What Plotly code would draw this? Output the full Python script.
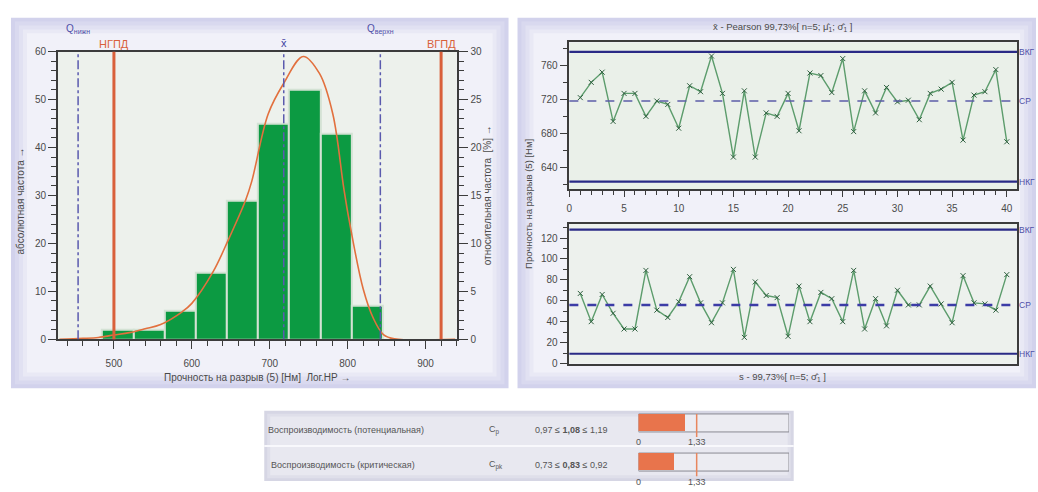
import plotly.graph_objects as go

W, H = 1038, 492

# ---------------- data ----------------
hist_bin_centers = [505, 545, 585, 625, 665, 705, 745, 785, 825]
hist_counts = [2, 2, 6, 14, 29, 45, 52, 43, 7]
hist_bin_width = 40
fit_x = [430, 460, 480, 500, 520, 540, 560, 588, 600, 627, 647, 669, 677, 698, 718, 743, 764, 781, 795, 802, 820, 833, 846, 860, 938]
fit_y = [0.0, 0.2, 0.4, 0.9, 1.4, 2.2, 3.1, 5.8, 7.5, 14, 20.8, 29, 33, 47, 53.4, 59, 55.4, 47, 31.6, 24.8, 10.5, 4.4, 1.0, 0.1, 0.0]
lsl, usl = 500, 920
q_low, q_high = 454, 842
x_mean = 718

sample_no = list(range(1, 41))
xbar_values = [722, 740, 752, 694, 727, 727, 700, 718, 714, 686, 736, 729, 771, 727, 652, 730, 652, 704, 700, 727,
               683, 751, 748, 728, 768, 682, 730, 704, 734, 717, 719, 696, 727, 732, 740, 672, 725, 729, 755, 670]
xbar_ucl, xbar_cl, xbar_lcl = 776, 718, 623
s_values = [67, 40, 66, 48, 33, 33, 89, 51, 44, 59, 83, 58, 39, 58, 90, 25, 78, 65, 63, 26,
            74, 40, 68, 62, 40, 89, 33, 62, 36, 70, 56, 56, 74, 57, 39, 84, 58, 57, 51, 85]
s_ucl, s_cl, s_lcl = 128, 56, 9.3

cap_labels = ["Воспроизводимость (потенциальная)", "Воспроизводимость (критическая)"]
cap_symbols = ["C<sub>p</sub>", "C<sub>pk</sub>"]
cap_low = ["0,97", "0,73"]
cap_value = [1.08, 0.83]
cap_value_text = ["1,08", "0,83"]
cap_high = ["1,19", "0,92"]
cap_target = 1.33
cap_target_text = "1,33"
cap_scale_max = 3.44
cap_rows = [1, 0]

# ---------------- helpers ----------------
def px(x):
    return x / W

def py(y):
    return 1 - y / H

FONT = "Liberation Sans"
TXT = "#4a4a4a"
BLUE = "#5050a8"
ORANGE = "#d9603a"
NAVY = "#2a2a86"

fig = go.Figure()

# histogram
fig.add_trace(go.Bar(x=hist_bin_centers, y=hist_counts, width=hist_bin_width,
                     marker=dict(color="#0c9a42", line=dict(color="#d4e2d4", width=2)),
                     xaxis="x", yaxis="y", showlegend=False))
total = sum(hist_counts)
fig.add_trace(go.Scatter(x=hist_bin_centers, y=[c * 100.0 / total for c in hist_counts],
                         mode="markers", marker=dict(opacity=0), xaxis="x", yaxis="y2",
                         showlegend=False, hoverinfo="skip"))
fig.add_trace(go.Scatter(x=fit_x, y=fit_y, mode="lines", line=dict(color="#e2703e", width=1.6, shape="spline"),
                         xaxis="x", yaxis="y", showlegend=False))

# x-bar chart
fig.add_trace(go.Scatter(x=sample_no, y=xbar_values, mode="lines+markers",
                         line=dict(color="#5c9c6c", width=1.4),
                         marker=dict(symbol="x-thin", size=5, line=dict(color="#2f5f3f", width=1)),
                         xaxis="x3", yaxis="y3", showlegend=False))
# s chart
fig.add_trace(go.Scatter(x=sample_no, y=s_values, mode="lines+markers",
                         line=dict(color="#5c9c6c", width=1.4),
                         marker=dict(symbol="x-thin", size=5, line=dict(color="#2f5f3f", width=1)),
                         xaxis="x4", yaxis="y4", showlegend=False))

# capability bars
fig.add_trace(go.Bar(x=cap_value, y=cap_rows, orientation="h", width=0.42,
                     marker=dict(color="#e8744c", line=dict(width=0)),
                     xaxis="x5", yaxis="y5", showlegend=False))

shapes = []

# panel backgrounds (concentric steps to mimic gradient)
def panel(x0, y0, x1, y1, edge, center, steps=5, inset=4):
    e = [int(edge[i:i + 2], 16) for i in (1, 3, 5)]
    c = [int(center[i:i + 2], 16) for i in (1, 3, 5)]
    for k in range(steps):
        t = k / (steps - 1)
        col = "#%02x%02x%02x" % tuple(int(e[j] + (c[j] - e[j]) * t) for j in range(3))
        d = k * inset
        shapes.append(dict(type="rect", xref="paper", yref="paper", layer="below",
                           x0=px(x0 + d), x1=px(x1 - d), y0=py(y1 - d), y1=py(y0 + d),
                           line=dict(width=0), fillcolor=col))

panel(8, 13, 507, 392, "#d2d2ec", "#f1f1f9")
panel(516, 13, 1036, 392, "#d2d2ec", "#f1f1f9")
panel(262, 415, 793, 487, "#d6d6e4", "#e8e8f0", steps=3, inset=3)
shapes.append(dict(type="line", xref="paper", yref="paper", x0=px(262), x1=px(793), y0=py(451), y1=py(451),
                   line=dict(color="#f8f8fc", width=2)))

# plot area backgrounds
for xa, ya, col in [("x", "y", "#edf1ec"), ("x3", "y3", "#eaf0e9"), ("x4", "y4", "#edf1ed")]:
    shapes.append(dict(type="rect", xref=xa + " domain", yref=ya + " domain", x0=0, x1=1, y0=0, y1=1,
                       layer="below", line=dict(width=0), fillcolor=col))

# histogram reference lines
for xv in (q_low, x_mean, q_high):
    shapes.append(dict(type="line", xref="x", yref="y domain", x0=xv, x1=xv, y0=0, y1=1,
                       line=dict(color="#5a5aae", width=1.5, dash="dashdot")))
for xv in (lsl, usl):
    shapes.append(dict(type="line", xref="x", yref="y domain", x0=xv, x1=xv, y0=0, y1=1,
                       line=dict(color=ORANGE, width=3)))

# control limits
for xa, ya, ucl, cl, lcl, clw, clc in [("x3", "y3", xbar_ucl, xbar_cl, xbar_lcl, 1.6, "#5c5ca8"),
                                       ("x4", "y4", s_ucl, s_cl, s_lcl, 2.4, "#3c3ca6")]:
    for v in (ucl, lcl):
        shapes.append(dict(type="line", xref=xa + " domain", yref=ya, x0=0, x1=1, y0=v, y1=v,
                           line=dict(color=NAVY, width=2.2)))
    shapes.append(dict(type="line", xref=xa + " domain", yref=ya, x0=0, x1=1, y0=cl, y1=cl,
                       line=dict(color=clc, width=clw, dash="dash")))

# capability boxes and target line
for r in cap_rows:
    shapes.append(dict(type="rect", xref="x5", yref="y5", x0=0, x1=cap_scale_max, y0=r - 0.23, y1=r + 0.23,
                       layer="below", fillcolor="#ececf2", line=dict(color="#8a8a92", width=1)))
    shapes.append(dict(type="line", xref="x5", yref="y5", x0=cap_target, x1=cap_target, y0=r - 0.36, y1=r + 0.23,
                       line=dict(color="#e8865e", width=1.5)))

annotations = []

def ann(text, x, y, xref="paper", yref="paper", size=10, color=TXT, angle=0, xanchor="center", yanchor="middle"):
    annotations.append(dict(text=text, x=x, y=y, xref=xref, yref=yref, showarrow=False,
                            font=dict(family=FONT, size=size, color=color), textangle=angle,
                            xanchor=xanchor, yanchor=yanchor, borderpad=0))

# histogram labels
ann("Q<sub>нижн</sub>", q_low, py(25), xref="x", color=BLUE, size=10)
ann("НГПД", lsl, py(40), xref="x", color=ORANGE, size=11)
ann("x̄", x_mean, py(39), xref="x", color="#4040a0", size=11)
ann("Q<sub>верхн</sub>", q_high, py(25), xref="x", color=BLUE, size=10)
ann("ВГПД", usl, py(40), xref="x", color=ORANGE, size=11)
ann("абсолютная частота →", px(18), py(200), angle=-90)
ann("относительная частота  [%] →", px(486), py(195), angle=-90)
ann("Прочность на разрыв (5) [Нм]  Лог.НР →", px(255), py(381))

# control chart labels
ann("x̄ - Pearson 99,73%[ n=5; μ̂<sub>1</sub>; σ̂<sub>1</sub> ]", px(782), py(23), size=9.5)
ann("s - 99,73%[ n=5; σ̂<sub>1</sub> ]", px(782), py(381), size=9.5)
ann("Прочность на разрыв (5) [Нм]", px(527), py(203), angle=-90, size=9.5)
for ya, ucl, cl, lcl in [("y3", xbar_ucl, xbar_cl, xbar_lcl), ("y4", s_ucl, s_cl, s_lcl)]:
    for t, v in (("ВКГ", ucl), ("СР", cl), ("НКГ", lcl)):
        ann(t, px(1018), v, yref=ya, color=BLUE, size=8.5, xanchor="left")

# capability table text
row_text_y = [py(435), py(471)]
for i, r in enumerate(cap_rows):
    ann(cap_labels[i], px(265 + 3 * i), row_text_y[i], size=9, color="#555555", xanchor="left")
    ann(cap_symbols[i], px(486), row_text_y[i], size=9, color="#555555", xanchor="left")
    ann(cap_low[i] + " ≤ <b>" + cap_value_text[i] + "</b> ≤ " + cap_high[i], px(533), row_text_y[i],
        size=9, color="#555555", xanchor="left")
    ann("0", 0, r - 0.5, xref="x5", yref="y5", size=9, color="#555555")
    ann(cap_target_text, cap_target, r - 0.5, xref="x5", yref="y5", size=9, color="#555555")

axis_common = dict(showline=True, linecolor="#3c3c3c", linewidth=1.5, mirror=True, showgrid=False,
                   zeroline=False, ticks="outside", tickcolor="#3c3c3c",
                   tickfont=dict(family=FONT, size=10, color=TXT))

fig.update_layout(
    width=W, height=H, margin=dict(l=0, r=0, t=0, b=0),
    paper_bgcolor="white", plot_bgcolor="rgba(0,0,0,0)",
    bargap=0, showlegend=False,
    xaxis=dict(domain=[px(55), px(455)], range=[428, 940], anchor="y", dtick=100, tick0=0,
               ticklen=8, tickwidth=1.2, ticklabelstandoff=6,
               minor=dict(dtick=20, ticklen=5, ticks="outside", tickcolor="#3c3c3c"), **axis_common),
    yaxis=dict(domain=[py(342), py(47.7)], range=[0, 60], anchor="x", dtick=10, ticklen=8, tickwidth=1.2,
               minor=dict(dtick=2, ticklen=5, ticks="outside", tickcolor="#3c3c3c"), **axis_common),
    yaxis2=dict(overlaying="y", side="right", anchor="x", range=[0, 30], dtick=5, ticklen=10, tickwidth=1.2,
                showline=True, linecolor="#3c3c3c", linewidth=1.5, showgrid=False, zeroline=False,
                ticks="outside", tickcolor="#3c3c3c", tickfont=dict(family=FONT, size=10, color=TXT),
                minor=dict(dtick=1, ticklen=6, ticks="outside", tickcolor="#3c3c3c")),
    xaxis3=dict(domain=[px(568), px(1017)], range=[0, 40.94], anchor="y3", dtick=5, tick0=0,
                ticklen=6, ticklabelstandoff=3,
                minor=dict(dtick=1, ticklen=4, ticks="outside", tickcolor="#3c3c3c"), **axis_common),
    yaxis3=dict(domain=[py(188.3), py(38.3)], range=[614.3, 787], anchor="x3", dtick=40, tick0=640, ticklen=8,
                minor=dict(dtick=20, tick0=0, ticklen=5, ticks="outside", tickcolor="#3c3c3c"), **axis_common),
    xaxis4=dict(domain=[px(568), px(1017)], range=[0, 40.94], anchor="y4", showticklabels=False,
                showline=True, linecolor="#3c3c3c", linewidth=1.5, mirror=True, showgrid=False,
                zeroline=False, ticks=""),
    yaxis4=dict(domain=[py(366.7), py(224)], range=[0, 133.4], anchor="x4", dtick=20, ticklen=8,
                minor=dict(dtick=10, ticklen=5, ticks="outside", tickcolor="#3c3c3c"), **axis_common),
    xaxis5=dict(domain=[px(637.3), px(788.3)], range=[0, cap_scale_max], anchor="y5", visible=False),
    yaxis5=dict(domain=[py(487.5), py(407.5)], range=[-0.5, 1.5], anchor="x5", visible=False),
    shapes=shapes, annotations=annotations,
)

fig.write_html("out.html", config={"displayModeBar": False},
               post_script="document.body.style.margin='0';document.body.style.overflow='hidden';")
